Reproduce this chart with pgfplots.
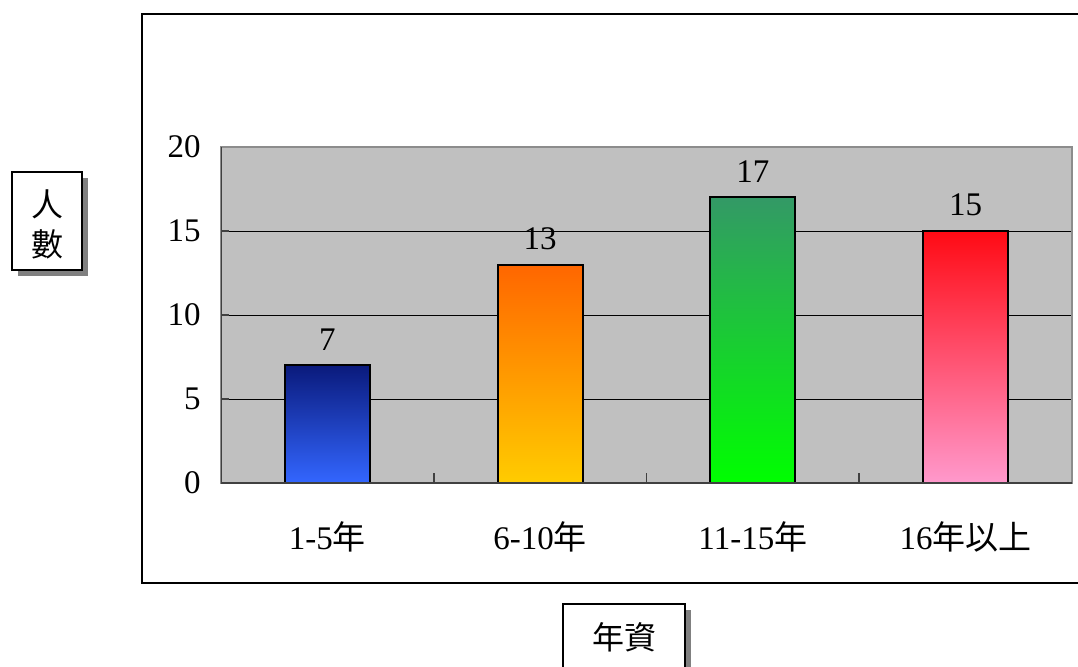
\documentclass[border=0pt]{standalone}
\usepackage{fontspec}
\setmainfont{Liberation Serif}
\newfontfamily\cjk{Noto Sans CJK TC}
\usepackage{pgfplots}
\pgfplotsset{compat=1.18}

\definecolor{bggray}{HTML}{C0C0C0}
\definecolor{c1t}{HTML}{0A1A7C}
\definecolor{c1b}{HTML}{3366FF}
\definecolor{c2t}{HTML}{FF6600}
\definecolor{c2b}{HTML}{FFCC00}
\definecolor{c3t}{HTML}{339966}
\definecolor{c3b}{HTML}{00FF00}
\definecolor{c4t}{HTML}{FF0A14}
\definecolor{c4b}{HTML}{FF99CC}

\begin{document}
\begin{tikzpicture}
\useasboundingbox (0,0) rectangle (539pt,333pt);
% chart frame (its right edge lies outside the picture)
\draw[line width=1pt] (539pt,326pt) -- (71pt,326pt) -- (71pt,41.5pt) -- (539pt,41.5pt);

\begin{axis}[
    at={(110.5pt,91.5pt)}, anchor=south west,
    width=425.5pt, height=168pt, scale only axis,
    axis background/.style={fill=bggray},
    axis line style={draw=black!45, line width=0.8pt},
    xmin=-0.5, xmax=3.5, ymin=0, ymax=20,
    xtick={0,1,2,3},
    xticklabels={1-5{\cjk 年}, 6-10{\cjk 年}, 11-15{\cjk 年}, 16{\cjk 年以上}},
    minor xtick={0.5,1.5,2.5},
    every major x tick/.style={draw=none},
    ytick={0,5,10,15,20},
    tick pos=left,
    tick align=inside,
    major tick length=4pt, minor tick length=5pt,
    every tick/.style={black!75, line width=0.8pt},
    ymajorgrids, grid style={black, line width=0.5pt},
    tick label style={font=\fontsize{16.5}{19}\selectfont},
    /pgf/number format/assume math mode=true,
    yticklabel style={inner sep=0pt, anchor=east, xshift=-10pt},
    xticklabel style={inner sep=0pt, anchor=center, yshift=-27pt},
    nodes near coords,
    every node near coord/.append style={font=\fontsize{16.5}{19}\selectfont, inner sep=0pt, yshift=7pt},
]
\addplot[ybar, bar shift=0pt, bar width=42.5pt, draw=black, line width=1pt, top color=c1t, bottom color=c1b] coordinates {(0,7)};
\addplot[ybar, bar shift=0pt, bar width=42.5pt, draw=black, line width=1pt, top color=c2t, bottom color=c2b] coordinates {(1,13)};
\addplot[ybar, bar shift=0pt, bar width=42.5pt, draw=black, line width=1pt, top color=c3t, bottom color=c3b] coordinates {(2,17)};
\addplot[ybar, bar shift=0pt, bar width=42.5pt, draw=black, line width=1pt, top color=c4t, bottom color=c4b] coordinates {(3,15)};
\draw[black!75, line width=1pt] (rel axis cs:0,1) -- (rel axis cs:0,0) -- (rel axis cs:1,0);
\end{axis}

% y title box
\fill[black!50] (9pt,195pt) rectangle (44pt,244pt);
\draw[fill=white, line width=1pt] (6pt,198pt) rectangle (41pt,247pt);
\node[font=\fontsize{16}{18}\cjk] at (24pt,231pt) {人};
\node[font=\fontsize{16}{18}\cjk] at (24pt,211pt) {數};

% x title box
\fill[black!50] (284.5pt,-5pt) rectangle (345.5pt,28pt);
\draw[fill=white, line width=1pt] (281.5pt,-5pt) rectangle (342.5pt,31pt);
\node[font=\fontsize{16}{18}\cjk] at (312pt,14.5pt) {年資};
\end{tikzpicture}
\end{document}
